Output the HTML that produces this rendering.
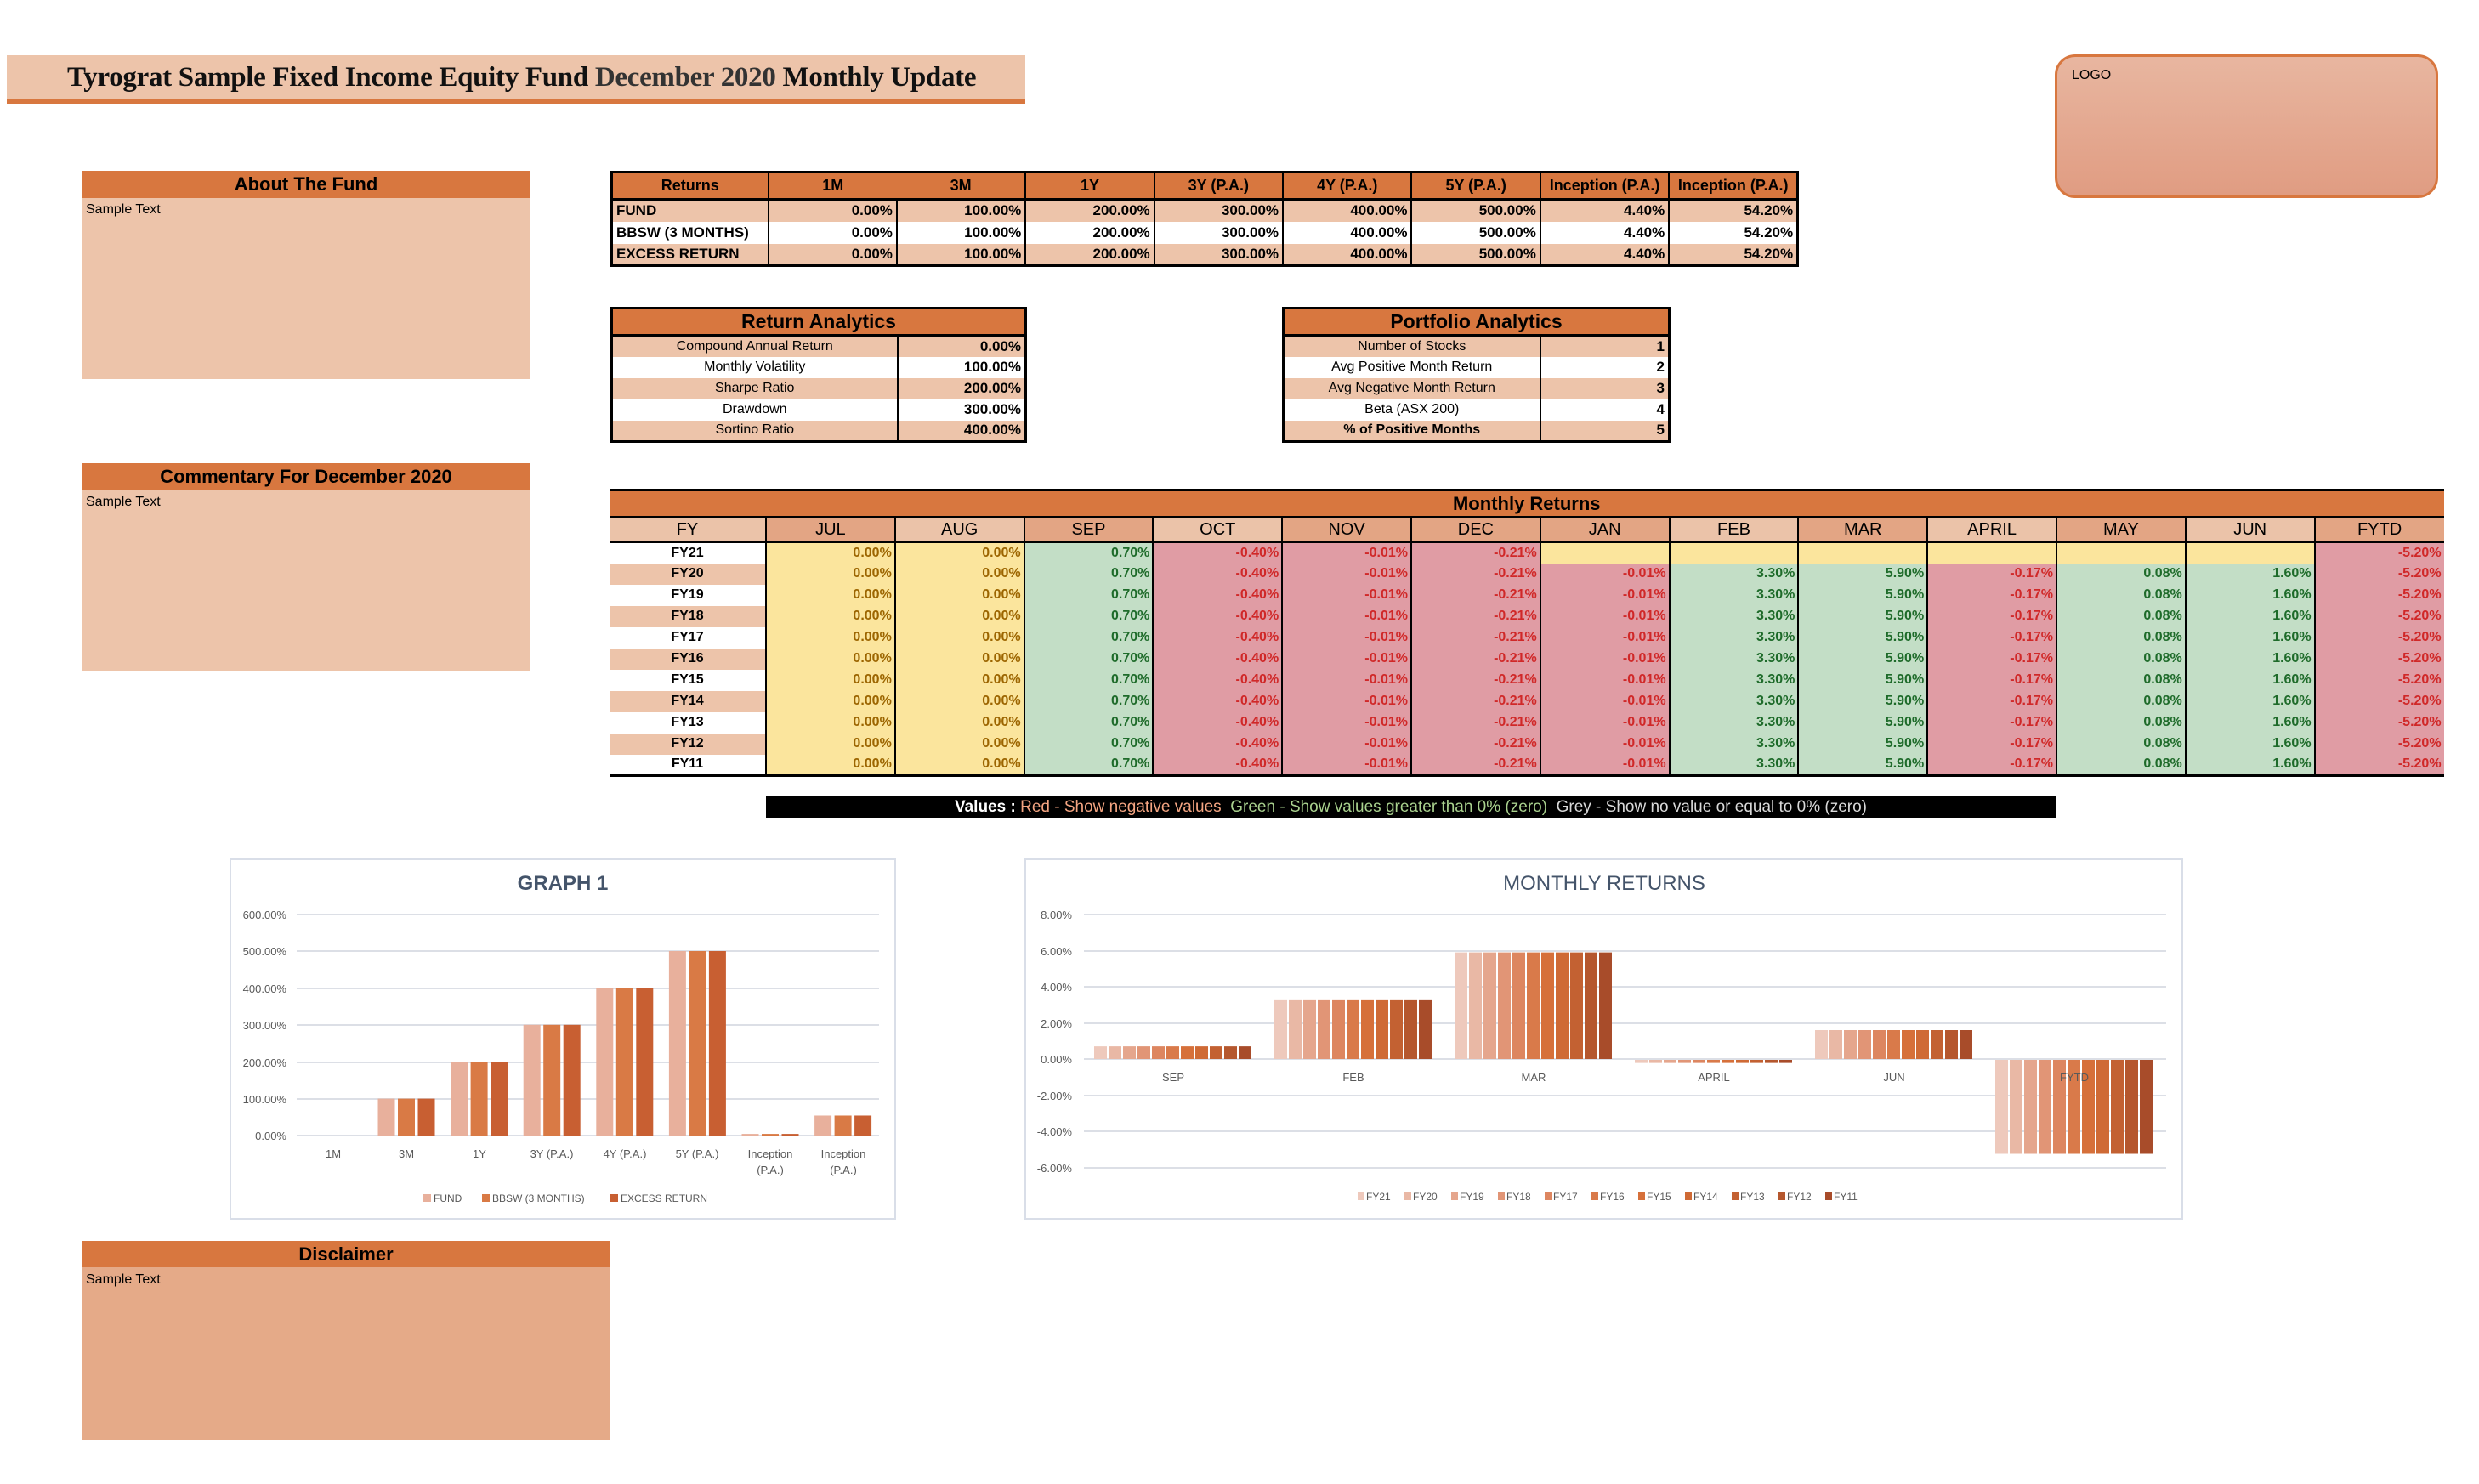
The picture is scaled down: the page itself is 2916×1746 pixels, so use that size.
<!DOCTYPE html>
<html><head><meta charset="utf-8">
<style>
*{margin:0;padding:0;box-sizing:border-box}
body{width:2916px;height:1746px;background:#fff;position:relative;overflow:hidden;font-family:"Liberation Sans Narrow","Liberation Sans",sans-serif;color:#000}
.abs{position:absolute}
.hdr{background:#D8773F;font-weight:bold;text-align:center;font-size:22px}
.peach{background:#EDC4AA}
table{border-collapse:collapse;table-layout:fixed;position:absolute}
td{font-weight:bold;white-space:nowrap;overflow:hidden}
.rt td{font-size:17px;height:26px;padding:0 4px;text-align:right;border-left:2px solid #000}
.rt tr.h td{background:#D8773F;text-align:center;height:32px;font-size:18px;border-bottom:3px solid #000}
.rt td.l{text-align:left;border-left:none}
.pe td{background:#EDC4AA}
.an td{font-size:16px;height:25px;padding:0 4px;font-weight:normal;text-align:center}
.an td.v{text-align:right;font-weight:bold;border-left:2px solid #000;font-size:17px}
.an tr.h td{background:#D8773F;font-size:23px;font-weight:bold;height:32px;border-bottom:3px solid #000}
.mt td{font-size:16px;height:25px;padding:0 3px;text-align:right;border-left:2px solid #000}
.mt td.fy{text-align:center;border-left:none;font-size:16px}
.mt tr.t td{background:#D8773F;text-align:center;font-size:22px;height:32px;border-bottom:3px solid #000;border-left:none}
.mt tr.h td{text-align:center;font-size:20px;height:29px;font-weight:normal;border-bottom:3px solid #000}
.mt tr.h td.a{background:#EBC3A9}.mt tr.h td.b{background:#E3A584}
.y{background:#FBE59D;color:#9C6500}.g{background:#C3DEC6;color:#1E6B2A}.r{background:#E09CA4;color:#D02828}
.pk{background:#EDC4AA}
</style></head><body>

<div class="abs" style="left:8px;top:65px;width:1198px;height:51px;background:#EDC4AA"></div>
<div class="abs" style="left:8px;top:116px;width:1198px;height:6px;background:#D8773F"></div>
<div class="abs" style="left:79px;top:68px;font-family:'Liberation Serif',serif;font-weight:bold;font-size:33px;line-height:46px;color:#111;white-space:nowrap;letter-spacing:-0.3px">Tyrograt Sample Fixed Income Equity Fund <span style="color:#333">December 2020</span> Monthly Update</div>

<div class="abs" style="left:2417px;top:64px;width:451px;height:169px;border:3px solid #D8773F;border-radius:24px;background:linear-gradient(#E8B6A0,#E09C82)"></div>
<div class="abs" style="left:2437px;top:80px;font-family:'Liberation Sans',sans-serif;font-size:16px">LOGO</div>

<div class="abs peach" style="left:96px;top:201px;width:528px;height:245px"></div>
<div class="abs hdr" style="left:96px;top:201px;width:528px;height:32px;line-height:32px">About The Fund</div>
<div class="abs" style="left:101px;top:238px;font-size:16px">Sample Text</div>

<div class="abs peach" style="left:96px;top:545px;width:528px;height:245px"></div>
<div class="abs hdr" style="left:96px;top:545px;width:528px;height:32px;line-height:32px">Commentary For December 2020</div>
<div class="abs" style="left:101px;top:582px;font-size:16px">Sample Text</div>

<div class="abs" style="left:96px;top:1460px;width:622px;height:234px;background:#E5AA88"></div>
<div class="abs hdr" style="left:96px;top:1460px;width:622px;height:31px;line-height:31px">Disclaimer</div>
<div class="abs" style="left:101px;top:1497px;font-size:16px">Sample Text</div>

<table class="rt" style="left:718px;top:201px;width:1395px;border:3px solid #000">
<colgroup><col style="width:184px"><col span="8" style="width:151.4px"></colgroup>
<tr class="h"><td style="border-left:none">Returns</td><td style="border-left:2px solid #000">1M</td><td style="border-left:none">3M</td><td>1Y</td><td>3Y (P.A.)</td><td>4Y (P.A.)</td><td>5Y (P.A.)</td><td>Inception (P.A.)</td><td>Inception (P.A.)</td></tr>
<tr class="pe"><td class="l">FUND</td><td>0.00%</td><td>100.00%</td><td>200.00%</td><td>300.00%</td><td>400.00%</td><td>500.00%</td><td>4.40%</td><td>54.20%</td></tr>
<tr><td class="l">BBSW (3 MONTHS)</td><td>0.00%</td><td>100.00%</td><td>200.00%</td><td>300.00%</td><td>400.00%</td><td>500.00%</td><td>4.40%</td><td>54.20%</td></tr>
<tr class="pe"><td class="l">EXCESS RETURN</td><td>0.00%</td><td>100.00%</td><td>200.00%</td><td>300.00%</td><td>400.00%</td><td>500.00%</td><td>4.40%</td><td>54.20%</td></tr>
</table>

<table class="an" style="left:718px;top:361px;width:487px;border:3px solid #000">
<colgroup><col style="width:336px"><col style="width:151px"></colgroup>
<tr class="h"><td colspan="2">Return Analytics</td></tr>
<tr class="pe"><td>Compound Annual Return</td><td class="v">0.00%</td></tr>
<tr><td>Monthly Volatility</td><td class="v">100.00%</td></tr>
<tr class="pe"><td>Sharpe Ratio</td><td class="v">200.00%</td></tr>
<tr><td>Drawdown</td><td class="v">300.00%</td></tr>
<tr class="pe"><td>Sortino Ratio</td><td class="v">400.00%</td></tr>
</table>

<table class="an" style="left:1508px;top:361px;width:454px;border:3px solid #000">
<colgroup><col style="width:302px"><col style="width:152px"></colgroup>
<tr class="h"><td colspan="2">Portfolio Analytics</td></tr>
<tr class="pe"><td>Number of Stocks</td><td class="v">1</td></tr>
<tr><td>Avg Positive Month Return</td><td class="v">2</td></tr>
<tr class="pe"><td>Avg Negative Month Return</td><td class="v">3</td></tr>
<tr><td>Beta (ASX 200)</td><td class="v">4</td></tr>
<tr class="pe"><td style="font-weight:bold">% of Positive Months</td><td class="v">5</td></tr>
</table>

<table class="mt" style="left:717px;top:575px;width:2157px;border-top:3px solid #000;border-bottom:3px solid #000">
<colgroup><col style="width:184px"><col span="13" style="width:151.8px"></colgroup>
<tr class="t"><td colspan="14">Monthly Returns</td></tr>
<tr class="h"><td class="a fy">FY</td><td class="b">JUL</td><td class="a">AUG</td><td class="b">SEP</td><td class="a">OCT</td><td class="b">NOV</td><td class="b">DEC</td><td class="b">JAN</td><td class="a">FEB</td><td class="b">MAR</td><td class="a">APRIL</td><td class="b">MAY</td><td class="a">JUN</td><td class="b">FYTD</td></tr>
<tr><td class="fy">FY21</td><td class="y">0.00%</td><td class="y">0.00%</td><td class="g">0.70%</td><td class="r">-0.40%</td><td class="r">-0.01%</td><td class="r">-0.21%</td><td class="y"></td><td class="y"></td><td class="y"></td><td class="y"></td><td class="y"></td><td class="y"></td><td class="r">-5.20%</td></tr>
<tr><td class="fy pk">FY20</td><td class="y">0.00%</td><td class="y">0.00%</td><td class="g">0.70%</td><td class="r">-0.40%</td><td class="r">-0.01%</td><td class="r">-0.21%</td><td class="r">-0.01%</td><td class="g">3.30%</td><td class="g">5.90%</td><td class="r">-0.17%</td><td class="g">0.08%</td><td class="g">1.60%</td><td class="r">-5.20%</td></tr>
<tr><td class="fy">FY19</td><td class="y">0.00%</td><td class="y">0.00%</td><td class="g">0.70%</td><td class="r">-0.40%</td><td class="r">-0.01%</td><td class="r">-0.21%</td><td class="r">-0.01%</td><td class="g">3.30%</td><td class="g">5.90%</td><td class="r">-0.17%</td><td class="g">0.08%</td><td class="g">1.60%</td><td class="r">-5.20%</td></tr>
<tr><td class="fy pk">FY18</td><td class="y">0.00%</td><td class="y">0.00%</td><td class="g">0.70%</td><td class="r">-0.40%</td><td class="r">-0.01%</td><td class="r">-0.21%</td><td class="r">-0.01%</td><td class="g">3.30%</td><td class="g">5.90%</td><td class="r">-0.17%</td><td class="g">0.08%</td><td class="g">1.60%</td><td class="r">-5.20%</td></tr>
<tr><td class="fy">FY17</td><td class="y">0.00%</td><td class="y">0.00%</td><td class="g">0.70%</td><td class="r">-0.40%</td><td class="r">-0.01%</td><td class="r">-0.21%</td><td class="r">-0.01%</td><td class="g">3.30%</td><td class="g">5.90%</td><td class="r">-0.17%</td><td class="g">0.08%</td><td class="g">1.60%</td><td class="r">-5.20%</td></tr>
<tr><td class="fy pk">FY16</td><td class="y">0.00%</td><td class="y">0.00%</td><td class="g">0.70%</td><td class="r">-0.40%</td><td class="r">-0.01%</td><td class="r">-0.21%</td><td class="r">-0.01%</td><td class="g">3.30%</td><td class="g">5.90%</td><td class="r">-0.17%</td><td class="g">0.08%</td><td class="g">1.60%</td><td class="r">-5.20%</td></tr>
<tr><td class="fy">FY15</td><td class="y">0.00%</td><td class="y">0.00%</td><td class="g">0.70%</td><td class="r">-0.40%</td><td class="r">-0.01%</td><td class="r">-0.21%</td><td class="r">-0.01%</td><td class="g">3.30%</td><td class="g">5.90%</td><td class="r">-0.17%</td><td class="g">0.08%</td><td class="g">1.60%</td><td class="r">-5.20%</td></tr>
<tr><td class="fy pk">FY14</td><td class="y">0.00%</td><td class="y">0.00%</td><td class="g">0.70%</td><td class="r">-0.40%</td><td class="r">-0.01%</td><td class="r">-0.21%</td><td class="r">-0.01%</td><td class="g">3.30%</td><td class="g">5.90%</td><td class="r">-0.17%</td><td class="g">0.08%</td><td class="g">1.60%</td><td class="r">-5.20%</td></tr>
<tr><td class="fy">FY13</td><td class="y">0.00%</td><td class="y">0.00%</td><td class="g">0.70%</td><td class="r">-0.40%</td><td class="r">-0.01%</td><td class="r">-0.21%</td><td class="r">-0.01%</td><td class="g">3.30%</td><td class="g">5.90%</td><td class="r">-0.17%</td><td class="g">0.08%</td><td class="g">1.60%</td><td class="r">-5.20%</td></tr>
<tr><td class="fy pk">FY12</td><td class="y">0.00%</td><td class="y">0.00%</td><td class="g">0.70%</td><td class="r">-0.40%</td><td class="r">-0.01%</td><td class="r">-0.21%</td><td class="r">-0.01%</td><td class="g">3.30%</td><td class="g">5.90%</td><td class="r">-0.17%</td><td class="g">0.08%</td><td class="g">1.60%</td><td class="r">-5.20%</td></tr>
<tr><td class="fy">FY11</td><td class="y">0.00%</td><td class="y">0.00%</td><td class="g">0.70%</td><td class="r">-0.40%</td><td class="r">-0.01%</td><td class="r">-0.21%</td><td class="r">-0.01%</td><td class="g">3.30%</td><td class="g">5.90%</td><td class="r">-0.17%</td><td class="g">0.08%</td><td class="g">1.60%</td><td class="r">-5.20%</td></tr>
</table>

<div class="abs" style="left:901px;top:936px;width:1517px;height:27px;background:#000;text-align:center;font-size:19px;line-height:27px;white-space:nowrap"><b style="color:#fff">Values :</b> <span style="color:#F4A582">Red - Show negative values</span>&nbsp; <span style="color:#A9D18E">Green - Show values greater than 0% (zero)</span>&nbsp; <span style="color:#D9D9D9">Grey - Show no value or equal to 0% (zero)</span></div>

<svg class="abs" style="left:0;top:0" width="2916" height="1746" xmlns="http://www.w3.org/2000/svg" font-family="Liberation Sans Narrow, Liberation Sans, sans-serif">
<rect x="271" y="1011" width="782" height="423" fill="#fff" stroke="#D9DEE8" stroke-width="2"/>
<rect x="1206" y="1011" width="1361" height="423" fill="#fff" stroke="#D9DEE8" stroke-width="2"/>
<text x="662" y="1047" text-anchor="middle" font-size="24" font-weight="bold" fill="#44546A">GRAPH 1</text>
<text x="1887" y="1047" text-anchor="middle" font-size="24" fill="#44546A">MONTHLY RETURNS</text>
<g stroke="#DCDFE6" stroke-width="2">
<line x1="349" x2="1034" y1="1076" y2="1076"/><line x1="349" x2="1034" y1="1119" y2="1119"/><line x1="349" x2="1034" y1="1163" y2="1163"/><line x1="349" x2="1034" y1="1206" y2="1206"/><line x1="349" x2="1034" y1="1250" y2="1250"/><line x1="349" x2="1034" y1="1293" y2="1293"/><line x1="349" x2="1034" y1="1336" y2="1336"/>
<line x1="1275" x2="2548" y1="1076" y2="1076"/><line x1="1275" x2="2548" y1="1119" y2="1119"/><line x1="1275" x2="2548" y1="1161" y2="1161"/><line x1="1275" x2="2548" y1="1204" y2="1204"/><line x1="1275" x2="2548" y1="1246" y2="1246"/><line x1="1275" x2="2548" y1="1289" y2="1289"/><line x1="1275" x2="2548" y1="1331" y2="1331"/><line x1="1275" x2="2548" y1="1374" y2="1374"/>
</g>
<g font-size="13" fill="#595959" text-anchor="end">
<text x="337" y="1081">600.00%</text><text x="337" y="1124">500.00%</text><text x="337" y="1168">400.00%</text><text x="337" y="1211">300.00%</text><text x="337" y="1255">200.00%</text><text x="337" y="1298">100.00%</text><text x="337" y="1341">0.00%</text>
<text x="1261" y="1081">8.00%</text><text x="1261" y="1124">6.00%</text><text x="1261" y="1166">4.00%</text><text x="1261" y="1209">2.00%</text><text x="1261" y="1251">0.00%</text><text x="1261" y="1294">-2.00%</text><text x="1261" y="1336">-4.00%</text><text x="1261" y="1379">-6.00%</text>
</g>
<g font-size="13" fill="#595959" text-anchor="middle">
<text x="392" y="1362">1M</text><text x="478" y="1362">3M</text><text x="564" y="1362">1Y</text><text x="649" y="1362">3Y (P.A.)</text><text x="735" y="1362">4Y (P.A.)</text><text x="820" y="1362">5Y (P.A.)</text><text x="906" y="1362">Inception</text><text x="906" y="1381">(P.A.)</text><text x="992" y="1362">Inception</text><text x="992" y="1381">(P.A.)</text>
<text x="1380" y="1272">SEP</text><text x="1592" y="1272">FEB</text><text x="1804" y="1272">MAR</text><text x="2016" y="1272">APRIL</text><text x="2228" y="1272">JUN</text>
</g>
<g id="g1"></g>
<g id="g2"></g>
<text x="2440" y="1272" text-anchor="middle" font-size="13" fill="#595959">FYTD</text>
<g font-size="12" fill="#595959">
<rect x="498" y="1405" width="9" height="9" fill="#E8B09C"/><text x="510" y="1414">FUND</text>
<rect x="567" y="1405" width="9" height="9" fill="#D97A45"/><text x="579" y="1414">BBSW (3 MONTHS)</text>
<rect x="718" y="1405" width="9" height="9" fill="#C85F32"/><text x="730" y="1414">EXCESS RETURN</text>
</g>
<g id="lg" font-size="12" fill="#595959">
<text x="1607" y="1412">FY21</text><text x="1662" y="1412">FY20</text><text x="1717" y="1412">FY19</text><text x="1772" y="1412">FY18</text><text x="1827" y="1412">FY17</text><text x="1882" y="1412">FY16</text><text x="1937" y="1412">FY15</text><text x="1992" y="1412">FY14</text><text x="2047" y="1412">FY13</text><text x="2102" y="1412">FY12</text><text x="2157" y="1412">FY11</text>
</g>
</svg>
<script>
var NS="http://www.w3.org/2000/svg";
function R(g,x,y,w,h,c){var r=document.createElementNS(NS,"rect");r.setAttribute("x",x);r.setAttribute("y",y);r.setAttribute("width",w);r.setAttribute("height",Math.max(h,1.5));r.setAttribute("fill",c);g.appendChild(r);}
var g1=document.getElementById("g1"),v1=[0,100,200,300,400,500,4.4,54.2],c1=["#E8B09C","#D97A45","#C85F32"];
v1.forEach(function(v,i){var cx=478+85.6*(i-1);if(v<=0)return;for(var s=0;s<3;s++){var h=v*0.434;R(g1,cx-33.5+s*23.5,1336-h,20,h,c1[s]);}});
var g2=document.getElementById("g2"),v2=[0.7,3.3,5.9,-0.17,1.6,-5.2],
c2=["#EEC9BC","#E9B8A5","#E5A68D","#E19576","#DD8660","#D97A4A","#D6703A","#CF6A35","#C36132","#B5572E","#A84C2A"];
v2.forEach(function(v,i){var cx=1380+212*i;for(var s=0;s<11;s++){var h=Math.abs(v)*21.25;var y=v>0?1246-h:1247;R(g2,cx-93+s*17,y,15,h,c2[s]);}});
var lg=document.getElementById("lg");for(var s=0;s<11;s++)R(lg,1597+s*55,1403,8,9,c2[s]);
</script>
</body></html>
